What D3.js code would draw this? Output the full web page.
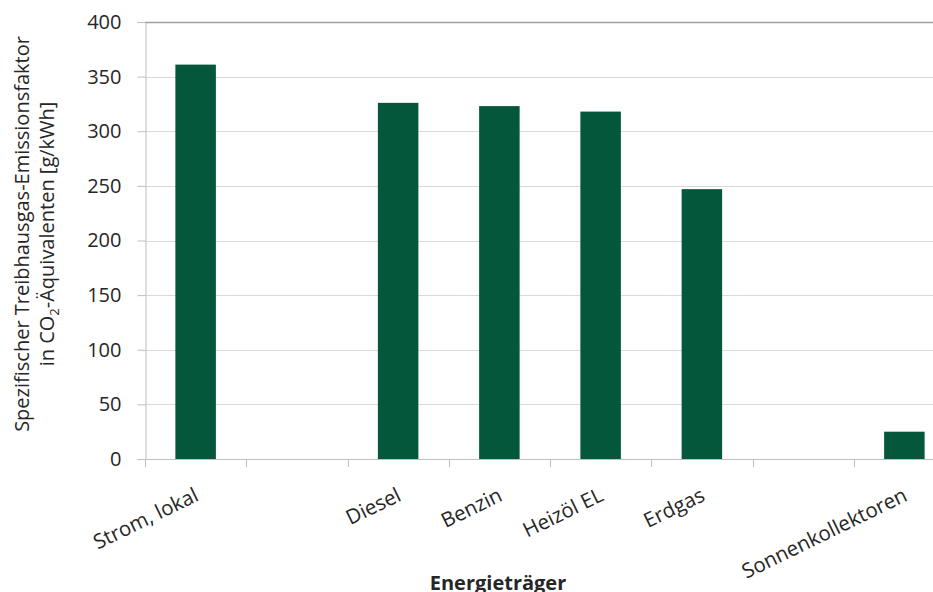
<!DOCTYPE html>
<html>
<head>
<meta charset="utf-8">
<script src="https://cdn.jsdelivr.net/npm/d3@7"></script>
<style>
  html, body { margin: 0; padding: 0; background: #fff; }
  svg { display: block; }
  text { font-family: "Open Sans", Lato, sans-serif; fill: #262626; }
</style>
</head>
<body>
<svg id="chart" width="933" height="592"></svg>
<script>
// Energy carriers (empty slots keep the gaps on the category axis)
const categories = ["Strom, lokal", "", "Diesel", "Benzin", "Heizöl EL", "Erdgas", " ", "Sonnenkollektoren"];
const values = [361, null, 326, 323, 318, 247, null, 25];
const yTicks = [0, 50, 100, 150, 200, 250, 300, 350, 400];

const svg = d3.select("#chart");
const margin = { left: 145, top: 22, bottom: 133 };
const plotRight = 955;
const height = 592;

const x = d3.scaleBand()
  .domain(categories)
  .range([margin.left, plotRight])
  .paddingInner(0.6)
  .paddingOuter(0.3);

const y = d3.scaleLinear()
  .domain([0, 400])
  .range([height - margin.bottom, margin.top]);

// Horizontal gridlines
svg.append("g")
  .selectAll("line")
  .data(yTicks)
  .join("line")
  .attr("x1", margin.left)
  .attr("x2", plotRight)
  .attr("y1", d => Math.round(y(d)) + 0.5)
  .attr("y2", d => Math.round(y(d)) + 0.5)
  .attr("stroke", d => d === 400 ? "#a0a0a0" : "#d9d9d9")
  .attr("stroke-width", d => d === 400 ? 1.5 : 1);

// Bars
const data = categories.map((c, i) => ({ c, v: values[i] })).filter(d => d.v != null);
svg.append("g")
  .selectAll("rect")
  .data(data)
  .join("rect")
  .attr("x", d => x(d.c))
  .attr("width", x.bandwidth())
  .attr("y", d => y(d.v))
  .attr("height", d => y(0) - y(d.v))
  .attr("fill", "#04573a");

// Y axis
const yAxis = d3.axisLeft(y).tickValues(yTicks).tickSize(8).tickPadding(16);
const gy = svg.append("g")
  .attr("transform", `translate(${margin.left + 0.5},0)`)
  .call(yAxis);
gy.select(".domain").attr("stroke", "#bfbfbf");
gy.selectAll(".tick line").attr("stroke", "#bfbfbf");
gy.selectAll(".tick text").style("font-size", "20px").attr("fill", "#262626");

// X axis: baseline and tick marks at band boundaries
const step = x.step();
const boundaries = d3.range(categories.length + 1).map(i => margin.left + i * step);
svg.append("line")
  .attr("x1", margin.left).attr("x2", plotRight)
  .attr("y1", Math.round(y(0)) + 0.5).attr("y2", Math.round(y(0)) + 0.5)
  .attr("stroke", "#bfbfbf");
svg.append("g")
  .selectAll("line")
  .data(boundaries)
  .join("line")
  .attr("x1", d => Math.round(d) + 0.5)
  .attr("x2", d => Math.round(d) + 0.5)
  .attr("y1", Math.round(y(0)))
  .attr("y2", Math.round(y(0)) + 8)
  .attr("stroke", "#bfbfbf");

// Rotated category labels
svg.append("g")
  .selectAll("text")
  .data(categories.filter(c => c.trim() !== ""))
  .join("text")
  .attr("transform", d => `translate(${x(d) + x.bandwidth() / 2 - 2},${y(0) + 28}) rotate(-26)`)
  .attr("text-anchor", "end")
  .attr("dy", "0.7em")
  .style("font-size", "20.5px")
  .text(d => d);

// Axis titles
svg.append("text")
  .attr("x", 498)
  .attr("y", 590)
  .attr("text-anchor", "middle")
  .style("font-size", "20px")
  .style("font-weight", "bold")
  .attr("fill", "#000")
  .text("Energieträger");

const yTitle = svg.append("text")
  .attr("transform", "translate(0,234) rotate(-90)")
  .attr("text-anchor", "middle")
  .style("font-size", "20px");
yTitle.append("tspan").attr("x", 0).attr("y", 29).text("Spezifischer Treibhausgas-Emissionsfaktor");
const l2 = yTitle.append("tspan").attr("x", 0).attr("y", 54);
l2.append("tspan").text("in CO");
l2.append("tspan").attr("dy", 5).style("font-size", "13px").text("2");
l2.append("tspan").attr("dy", -5).text("-Äquivalenten [g/kWh]");
</script>
</body>
</html>
